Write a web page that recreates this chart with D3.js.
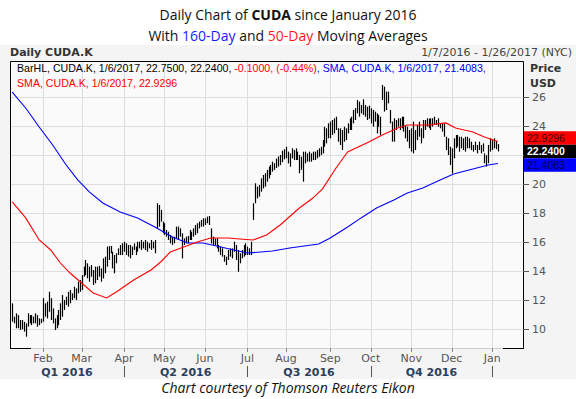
<!DOCTYPE html>
<html><head><meta charset="utf-8">
<script src="https://cdn.jsdelivr.net/npm/d3@7"></script>
<style>
body{margin:0;background:#fff}
svg{display:block}
</style></head><body>
<div id="chart"></div>
<script>
// daily high / low, one line per month (Jan 7 2016 .. Jan 6 2017)
const barHigh = [
  11.77,10.85,11.08,10.96,10.62,10.62,10.50,10.39,11.08,10.96,10.96,10.85,11.08,10.96,10.73,10.70,
  12.12,11.77,11.89,12.57,12.12,11.42,10.73,10.96,11.31,11.77,12.35,12.00,12.23,12.57,12.69,12.46,12.92,12.80,13.26,13.38,
  13.72,14.30,14.76,14.53,14.30,14.41,14.07,14.30,14.30,14.35,14.18,14.87,14.99,15.68,15.72,15.72,15.33,15.10,15.22,15.56,15.79,15.91,
  16.02,15.91,15.79,15.79,15.68,15.91,15.68,16.02,16.02,16.14,16.02,16.14,16.02,15.91,16.14,16.02,16.14,18.67,18.55,18.21,17.40,
  17.29,16.83,16.71,16.48,16.37,16.37,17.06,17.06,16.94,16.60,16.25,16.37,16.41,16.83,16.71,16.94,17.17,17.29,17.40,17.52,17.63,
  17.63,17.75,17.79,16.94,16.37,16.25,16.25,15.79,15.68,15.56,15.10,14.99,15.45,15.56,15.56,16.02,15.79,15.45,15.22,15.45,15.79,15.91,
  15.68,15.56,16.02,18.67,20.05,19.82,19.93,20.39,20.62,20.74,20.97,21.20,21.31,21.54,21.43,21.75,21.90,22.00,22.30,22.40,
  22.57,22.23,22.11,22.46,22.34,22.46,22.23,22.00,21.88,22.23,22.23,22.11,22.23,22.11,22.23,22.23,22.34,22.46,22.57,23.03,23.95,23.84,24.18,
  24.30,24.41,24.53,24.64,23.84,23.84,23.72,23.95,23.84,24.18,24.53,24.64,25.10,25.22,25.79,25.68,25.45,25.84,25.45,25.33,25.40,
  25.22,25.10,24.99,24.87,24.76,24.64,26.83,26.71,26.37,26.37,25.10,24.30,24.53,24.41,24.53,24.53,24.64,24.64,24.07,23.95,23.72,
  23.84,24.30,23.72,24.07,24.30,23.84,24.41,24.41,24.53,24.50,24.53,24.53,24.64,24.41,24.53,24.18,24.18,24.18,23.26,23.15,22.57,
  22.46,23.15,23.38,23.38,23.26,23.26,23.15,23.26,23.26,23.15,22.92,22.69,22.92,22.69,22.92,22.69,22.80,22.11,21.99,22.69,23.15,
  23.03,23.15,22.95,22.75
];
const barLow = [
  10.50,10.39,10.05,10.05,9.93,9.98,9.82,9.47,10.16,10.39,10.27,10.39,10.39,10.16,10.27,10.40,
  10.50,10.85,10.73,11.19,10.62,10.39,9.93,10.05,10.27,10.62,10.85,11.31,11.66,11.54,11.77,12.00,12.12,12.00,12.46,12.57,
  12.69,13.61,13.72,13.49,13.26,13.61,13.03,13.15,13.38,13.61,13.26,13.49,13.84,14.30,14.76,15.22,14.18,13.84,14.53,15.10,15.10,15.10,
  15.33,15.10,14.99,14.87,15.10,15.45,15.10,15.33,15.56,15.45,15.56,15.45,15.33,15.56,15.45,15.56,15.22,16.94,17.06,17.40,16.60,
  16.48,16.37,16.14,15.91,15.79,15.91,16.25,16.14,16.37,14.87,15.79,15.91,15.91,16.14,16.14,16.37,16.48,16.60,16.94,17.06,17.06,
  17.17,17.29,17.17,15.90,15.79,15.79,15.56,15.33,15.10,14.99,14.64,14.41,14.76,14.99,14.87,15.33,14.76,13.95,14.53,14.87,14.99,15.10,
  15.10,15.10,15.10,17.52,18.67,19.01,19.13,19.47,19.70,19.82,20.16,20.39,20.62,20.85,20.97,21.10,21.20,21.30,21.50,21.70,
  21.77,21.42,21.19,21.77,21.65,21.65,21.65,20.74,20.97,20.16,21.42,21.54,21.54,21.54,21.65,21.65,21.77,21.88,22.00,22.11,22.57,22.80,23.15,
  23.15,23.38,23.49,23.72,22.92,22.69,22.34,22.92,23.03,23.49,23.72,23.72,24.18,24.41,24.87,24.64,24.87,24.76,24.64,24.41,24.50,
  24.18,23.95,24.30,23.49,23.95,23.38,25.79,24.99,25.10,25.56,24.18,22.92,22.92,23.72,23.95,23.72,23.84,23.61,23.15,22.92,22.46,
  22.23,22.11,22.34,23.03,23.26,22.80,23.15,23.72,23.95,23.85,23.72,23.95,24.07,24.07,23.95,23.84,23.61,23.26,22.34,22.00,21.31,
  20.73,21.77,22.46,22.57,22.23,22.46,22.34,22.23,22.46,22.46,22.34,22.23,22.34,22.11,22.34,22.11,22.23,21.43,21.20,21.43,22.23,
  22.34,22.46,22.40,22.24
];

// moving averages, read at trading-day numbers
const sma160Day = [0,7,14,21,28,34,40,47,56,65,75,83,91,99,106,115,122,129,135,144,159,165,174,181,189,198,205,213,222,229,239,247,252];
const sma160 = [26.34,25.24,23.93,22.69,21.31,20.28,19.45,18.69,18.07,17.66,16.97,16.34,15.93,15.93,15.72,15.45,15.24,15.31,15.38,15.59,15.86,16.28,17.03,17.66,18.34,18.90,19.38,19.72,20.28,20.69,21.03,21.31,21.4083];
const sma50Day = [0,7,14,20,25,30,36,42,49,54,63,72,77,82,89,96,103,112,118,125,132,139,149,156,161,168,174,185,192,200,205,216,225,230,239,245,252];
const sma50 = [18.76,17.66,16.14,15.45,14.55,13.86,13.17,12.48,12.14,12.55,13.38,14.07,14.62,15.31,15.66,16.00,16.28,16.28,16.21,16.14,16.48,17.17,18.34,19.03,19.66,21.10,22.21,22.90,23.38,23.86,24.07,24.07,24.21,23.86,23.59,23.24,22.9296];

const lastClose = 22.24;
const priceTicks = [10,12,14,16,18,20,22,24,26];
const quarterLabels = ["Q1 2016","Q2 2016","Q3 2016","Q4 2016"];
const holidays = ["2016-01-18","2016-02-15","2016-03-25","2016-05-30","2016-07-04","2016-09-05","2016-11-24","2016-12-26","2017-01-02","2017-01-16"];

const W = 576, H = 399;
const plot = {left: 10, right: 523, top: 61, bottom: 348};
const tahoma = "'DejaVu Sans', sans-serif";

const fmt = d3.timeFormat("%Y-%m-%d");
const days = d3.timeDay.range(new Date(2016,0,7), new Date(2017,0,27))
  .filter(d => d.getDay() > 0 && d.getDay() < 6 && !holidays.includes(fmt(d)));

const x = d3.scaleLinear().domain([0, days.length - 1]).range([12.2, plot.right]);
const y = d3.scaleLinear().domain([8.69, 28.48]).range([plot.bottom, plot.top]);

const monthIdx = d3.range(1, days.length).filter(i => days[i].getMonth() !== days[i-1].getMonth());
const quarterIdx = monthIdx.filter(i => days[i].getMonth() % 3 === 0);

const svg = d3.select("#chart").append("svg").attr("width", W).attr("height", H)
  .style("font-family", "'Open Sans', sans-serif");

// panel backgrounds
svg.append("rect").attr("x", 0).attr("y", 45).attr("width", W).attr("height", 334).attr("fill", "#f4f4f4");
svg.append("rect").attr("x", plot.left).attr("y", plot.top)
  .attr("width", plot.right - plot.left).attr("height", plot.bottom - plot.top).attr("fill", "#fafafa");

// titles
const t1 = svg.append("text").attr("x", W/2).attr("y", 20).attr("text-anchor", "middle").attr("font-size", 14).attr("fill", "#111");
t1.append("tspan").text("Daily Chart of ");
t1.append("tspan").attr("font-weight", "bold").text("CUDA");
t1.append("tspan").text(" since January 2016");
const t2 = svg.append("text").attr("x", W/2).attr("y", 41).attr("text-anchor", "middle").attr("font-size", 14).attr("fill", "#111");
t2.append("tspan").text("With ");
t2.append("tspan").attr("fill", "#1a1aff").text("160-Day");
t2.append("tspan").text(" and ");
t2.append("tspan").attr("fill", "#ff1a1a").text("50-Day");
t2.append("tspan").text(" Moving Averages");

svg.append("text").attr("x", 10).attr("y", 56).attr("font-weight", "bold")
  .attr("fill", "#333").style("font-family", tahoma).style("font-size", "11px").text("Daily CUDA.K");
svg.append("text").attr("x", 572).attr("y", 56).attr("text-anchor", "end").attr("fill", "#444")
  .style("font-family", tahoma).style("font-size", "11px").text("1/7/2016 - 1/26/2017 (NYC)");

// grid
const g = svg.append("g");
g.selectAll("line.hg").data(priceTicks).join("line")
  .attr("x1", plot.left).attr("x2", plot.right)
  .attr("y1", d => Math.round(y(d)) + 0.5).attr("y2", d => Math.round(y(d)) + 0.5)
  .attr("stroke", "#dedede");
g.selectAll("line.vg").data(monthIdx).join("line")
  .attr("x1", d => Math.round(x(d)) + 0.5).attr("x2", d => Math.round(x(d)) + 0.5)
  .attr("y1", plot.top).attr("y2", plot.bottom)
  .attr("stroke", "#dedede");

svg.append("clipPath").attr("id", "clip").append("rect")
  .attr("x", plot.left).attr("y", plot.top).attr("width", plot.right - plot.left).attr("height", plot.bottom - plot.top);
const pg = svg.append("g").attr("clip-path", "url(#clip)");

// HL bars
const bars = barHigh.map((h, i) => ({i, h, l: barLow[i]}));
pg.selectAll("line.bar").data(bars).join("line")
  .attr("x1", d => Math.round(x(d.i)) + 0.5).attr("x2", d => Math.round(x(d.i)) + 0.5)
  .attr("y1", d => y(d.h)).attr("y2", d => y(d.l))
  .attr("stroke", "#000").attr("stroke-width", 1.2);

// moving averages
const line = d3.line().x(d => x(d[0])).y(d => y(d[1]));
pg.append("path").datum(sma160Day.map((d, i) => [d, sma160[i]]))
  .attr("d", line).attr("fill", "none").attr("stroke", "#0000ff").attr("stroke-width", 1.1);
pg.append("path").datum(sma50Day.map((d, i) => [d, sma50[i]]))
  .attr("d", line).attr("fill", "none").attr("stroke", "#ff0000").attr("stroke-width", 1.1);

// frame
svg.append("path").attr("d", `M${plot.left+0.5},${plot.bottom}V${plot.top+0.5}H${plot.right+0.5}V${plot.bottom+0.5}`)
  .attr("fill", "none").attr("stroke", "#000");
svg.append("line").attr("x1", plot.left).attr("x2", plot.right).attr("y1", plot.bottom + 0.5).attr("y2", plot.bottom + 0.5)
  .attr("stroke", "#cfcfcf");
svg.append("line").attr("x1", plot.left).attr("x2", 31).attr("y1", plot.bottom + 0.5).attr("y2", plot.bottom + 0.5).attr("stroke", "#000");
svg.append("line").attr("x1", 503).attr("x2", plot.right + 1).attr("y1", plot.bottom + 0.5).attr("y2", plot.bottom + 0.5).attr("stroke", "#000");

// legend
const lg = svg.append("g").style("font-family", "'Liberation Sans', Arial, sans-serif").style("font-size", "10.6px");
const l1 = lg.append("text").attr("x", 17).attr("y", 72);
l1.append("tspan").attr("fill", "#000").text("BarHL, CUDA.K, 1/6/2017, 22.7500, 22.2400, ");
l1.append("tspan").attr("fill", "#ff0000").text("-0.1000, (-0.44%)");
l1.append("tspan").attr("fill", "#0000ff").text(", SMA, CUDA.K, 1/6/2017, 21.4083,");
lg.append("text").attr("x", 17).attr("y", 87).attr("fill", "#ff0000").text("SMA, CUDA.K, 1/6/2017, 22.9296");

// last value boxes (drawn over the axis, so the ticks they cover are left out)
const yc = y(lastClose), bh = 13.5;
const boxes = [
  {v: sma50[sma50.length-1], y0: yc - bh/2 - bh, fill: "#ff0000", color: "#400", bold: false},
  {v: lastClose, y0: yc - bh/2, fill: "#000", color: "#fff", bold: true},
  {v: sma160[sma160.length-1], y0: yc + bh/2, fill: "#0000ff", color: "#000040", bold: false}
];
const boxTop = boxes[0].y0, boxBottom = boxes[2].y0 + bh;

// right axis
svg.append("text").attr("x", 530).attr("y", 72).attr("font-weight", "bold").attr("fill", "#333")
  .style("font-family", tahoma).style("font-size", "11px").text("Price");
svg.append("text").attr("x", 530).attr("y", 87).attr("font-weight", "bold").attr("fill", "#333")
  .style("font-family", tahoma).style("font-size", "11px").text("USD");
const shownTicks = priceTicks.filter(d => y(d) + 4 <= boxTop || y(d) - 4 >= boxBottom);
const ya = svg.append("g").style("font-family", tahoma).style("font-size", "11px");
ya.selectAll("line").data(priceTicks).join("line")
  .attr("x1", plot.right).attr("x2", plot.right + 6)
  .attr("y1", d => Math.round(y(d)) + 0.5).attr("y2", d => Math.round(y(d)) + 0.5).attr("stroke", "#555");
ya.selectAll("text").data(shownTicks).join("text")
  .attr("x", 532).attr("y", d => y(d) + 4).attr("fill", "#555").text(d => d);

const bg = svg.append("g").style("font-family", "'Liberation Sans', Arial, sans-serif").style("font-size", "10.5px");
bg.selectAll("rect").data(boxes).join("rect")
  .attr("x", plot.right + 1).attr("y", d => d.y0).attr("width", W - plot.right).attr("height", bh).attr("fill", d => d.fill);
bg.selectAll("text").data(boxes).join("text")
  .attr("x", 527).attr("y", d => d.y0 + 10.5).attr("fill", d => d.color)
  .attr("font-weight", d => d.bold ? "bold" : "normal").text(d => d.v.toFixed(4));

// x axis
const xa = svg.append("g").style("font-family", tahoma).style("font-size", "11px");
xa.selectAll("line.mt").data(monthIdx).join("line")
  .attr("x1", d => Math.round(x(d)) + 0.5).attr("x2", d => Math.round(x(d)) + 0.5)
  .attr("y1", plot.bottom).attr("y2", plot.bottom + 4).attr("stroke", "#888");
xa.selectAll("text.ml").data(monthIdx).join("text")
  .attr("x", d => x(d)).attr("y", 362).attr("text-anchor", "middle").attr("fill", "#555")
  .text(d => d3.timeFormat("%b")(days[d]));
xa.selectAll("line.qs").data(quarterIdx).join("line")
  .attr("x1", d => Math.round(x(d)) + 0.5).attr("x2", d => Math.round(x(d)) + 0.5)
  .attr("y1", 366).attr("y2", 377).attr("stroke", "#555");
const qEdges = [plot.left].concat(quarterIdx.map(d => x(d)));
xa.selectAll("text.ql").data(quarterLabels).join("text")
  .attr("x", (d, i) => (qEdges[i] + qEdges[i+1]) / 2).attr("y", 376).attr("text-anchor", "middle")
  .attr("font-weight", "bold").attr("fill", "#2b3f5c").text(d => d);

svg.append("text").attr("x", W/2).attr("y", 393).attr("text-anchor", "middle").attr("font-size", 14)
  .attr("font-style", "italic").attr("fill", "#111").text("Chart courtesy of Thomson Reuters Eikon");
</script></body></html>
